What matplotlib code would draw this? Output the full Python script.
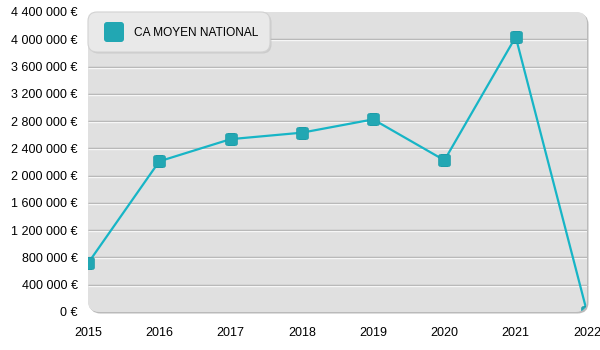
import numpy as np
import matplotlib
matplotlib.use("Agg")
import matplotlib.pyplot as plt
from matplotlib.patches import FancyBboxPatch
from matplotlib.path import Path
from matplotlib.ticker import FuncFormatter
import matplotlib.transforms as mtransforms

plt.rcParams["font.family"] = ["Liberation Sans", "DejaVu Sans"]

# ── Data ──────────────────────────────────────────────────────────────────────
years = [2015, 2016, 2017, 2018, 2019, 2020, 2021, 2022]
ca_moyen = [715000, 2210000, 2535000, 2630000, 2825000, 2225000, 4035000, 0]
series_label = "CA MOYEN NATIONAL"
y_ticks = list(range(0, 4400001, 400000))

LINE = "#17b5c6"
MARK = "#22a7b3"
W, H = 600, 350
PX0, PY0, PW, PH = 88, 12, 499, 300   # plot panel in pixels


def rounded_square(r=0.3, n=8):
    pts = []
    centers = [(1 - r, 1 - r, 0), (-1 + r, 1 - r, 90), (-1 + r, -1 + r, 180), (1 - r, -1 + r, 270)]
    for cx, cy, a0 in centers:
        for t in np.linspace(np.radians(a0), np.radians(a0 + 90), n):
            pts.append((cx + r * np.cos(t), cy + r * np.sin(t)))
    pts.append(pts[0])
    codes = [Path.MOVETO] + [Path.LINETO] * (len(pts) - 2) + [Path.CLOSEPOLY]
    return Path(pts, codes)


def fmt_eur(v, _):
    return f"{int(round(v)):,}".replace(",", " ") + " €"


fig = plt.figure(figsize=(W / 100, H / 100), dpi=100)

# ── Background panel (pixel coordinates) ──────────────────────────────────────
bg = fig.add_axes([0, 0, 1, 1], zorder=0)
bg.set_xlim(0, W)
bg.set_ylim(H, 0)
bg.axis("off")

shadow = FancyBboxPatch((PX0 + 1.5, PY0 + 1.5), PW, PH,
                        boxstyle="round,pad=0,rounding_size=11",
                        fc="#a9a9a9", ec="none", alpha=0.8)
bg.add_patch(shadow)
panel = FancyBboxPatch((PX0, PY0), PW, PH,
                       boxstyle="round,pad=0,rounding_size=11",
                       fc="#e0e0e0", ec="none")
bg.add_patch(panel)
grad = np.linspace(0.905, 0.845, 256)[:, None] * np.ones((1, 2))
img = bg.imshow(grad, cmap="gray", vmin=0, vmax=1, aspect="auto",
                extent=(PX0, PX0 + PW, PY0 + PH, PY0), interpolation="bilinear")
img.set_clip_path(panel)

# ── Data axes ─────────────────────────────────────────────────────────────────
ax = fig.add_axes([PX0 / W, (H - PY0 - PH) / H, PW / W, PH / H], zorder=1)
ax.patch.set_alpha(0)
ax.set_xlim(years[0], years[-1])
ax.set_ylim(0, 4400000)
for s in ax.spines.values():
    s.set_visible(False)

ax.set_yticks(y_ticks)
ax.yaxis.set_major_formatter(FuncFormatter(fmt_eur))
ax.set_xticks(years)
ax.tick_params(axis="both", length=0, labelsize=9, colors="black")
ax.tick_params(axis="y", pad=7.5)
ax.tick_params(axis="x", pad=10.5)

# embossed gridlines: grey line with a white highlight just below
grid_vals = y_ticks[1:-1]
ax.hlines(grid_vals, years[0], years[-1], colors="#ababab", lw=1.0, zorder=1)
below = mtransforms.offset_copy(ax.transData, fig=fig, x=0, y=-1, units="dots")
ax.hlines(grid_vals, years[0], years[-1], colors="#f6f6f6", lw=1.0,
          transform=below, zorder=1)

line, = ax.plot(years, ca_moyen, color=LINE, lw=1.6, zorder=3,
                marker=rounded_square(), markersize=8.5,
                markerfacecolor=MARK, markeredgecolor="#1e9ca8",
                markeredgewidth=0.5)
line.set_clip_path(panel)

# ── Legend box ────────────────────────────────────────────────────────────────
ov = fig.add_axes([0, 0, 1, 1], zorder=2)
ov.set_xlim(0, W)
ov.set_ylim(H, 0)
ov.axis("off")
ov.patch.set_alpha(0)
ov.add_patch(FancyBboxPatch((89.5, 13.5), 182, 40, boxstyle="round,pad=0,rounding_size=9",
                            fc="#bdbdbd", ec="none", alpha=0.6))
ov.add_patch(FancyBboxPatch((88, 12), 182, 40, boxstyle="round,pad=0,rounding_size=9",
                            fc="#e9e9e9", ec="#d2d2d2", lw=0.8))
ov.add_patch(FancyBboxPatch((104, 22), 20, 20, boxstyle="round,pad=0,rounding_size=3",
                            fc=MARK, ec="none"))
ov.text(134, 32.5, series_label, fontsize=8.6, va="center", ha="left", color="black")

fig.savefig("out.png", dpi=100)
